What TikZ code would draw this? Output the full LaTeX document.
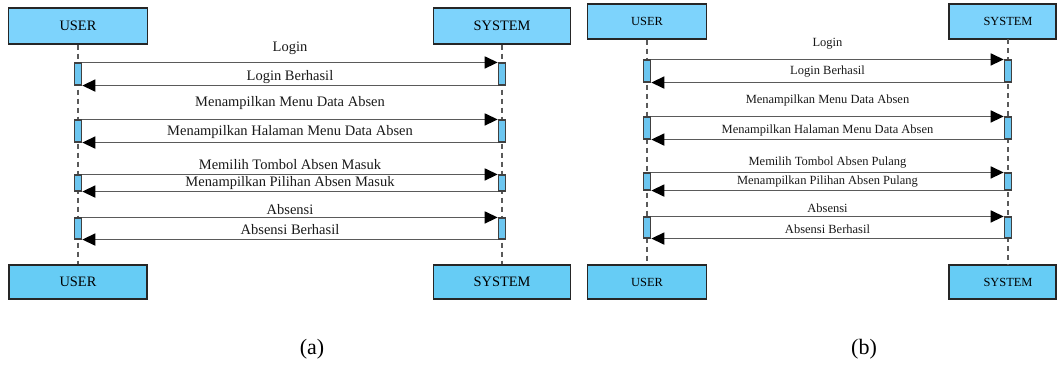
\documentclass[tikz,border=0pt]{standalone}
\usepackage{fontspec}
\setmainfont{Liberation Serif}
\newfontfamily\tnrfont{Liberation Serif}
\usetikzlibrary{arrows.meta}
\definecolor{boxtop}{HTML}{7DD3FC}
\definecolor{boxbot}{HTML}{66CCF5}
\definecolor{actfill}{HTML}{6CC6F0}
\definecolor{linegray}{HTML}{5A5A5A}
\tikzset{
  actorA/.style={draw=black!85, line width=1.3pt, inner sep=0pt, font=\tnrfont\fontsize{14.4}{16}\selectfont},
  actorB/.style={draw=black!85, line width=1.3pt, inner sep=0pt, font=\tnrfont\fontsize{12.4}{14}\selectfont},
  actbox/.style={draw=black!75, fill=actfill, line width=1.1pt, minimum width=7.5pt, inner sep=0pt},
  msg/.style={draw=linegray, line width=1.5pt, -{Triangle[length=13pt,width=12pt,fill=black,color=black]}},
  life/.style={draw=linegray, line width=1.2pt, dash pattern=on 5pt off 4pt},
  lblA/.style={font=\tnrfont\fontsize{14.5}{16}\selectfont, text=black!90, inner sep=1pt},
  lblB/.style={font=\tnrfont\fontsize{12.5}{14}\selectfont, text=black!90, inner sep=1pt},
  captext/.style={font=\tnrfont\fontsize{22}{24}\selectfont, inner sep=0pt}
}
\begin{document}
\begin{tikzpicture}[x=1pt,y=-1pt]
\useasboundingbox (0,0) rectangle (1057,365);
% ---------- panel (a) ----------
\node[actorA, fill=boxtop, minimum width=139pt, minimum height=36pt] (uTa) at (78,26) {USER};
\node[actorA, fill=boxtop, minimum width=137pt, minimum height=36pt] (sTa) at (502,26) {SYSTEM};
\node[actorA, fill=boxbot, minimum width=138pt, minimum height=34pt] (uBa) at (78,282) {USER};
\node[actorA, fill=boxbot, minimum width=137pt, minimum height=34pt] (sBa) at (502,282) {SYSTEM};
\draw[life] (uTa) -- (uBa);
\draw[life] (sTa) -- (sBa);
\node[actbox, minimum height=22pt] (ua1) at (78,74) {};
\node[actbox, minimum height=22pt] (sa1) at (502,74) {};
\node[actbox, minimum height=22pt] (ua2) at (78,131) {};
\node[actbox, minimum height=22pt] (sa2) at (502,131) {};
\node[actbox, minimum height=16pt] (ua3) at (78,183) {};
\node[actbox, minimum height=16pt] (sa3) at (502,183) {};
\node[actbox, minimum height=21pt] (ua4) at (78,228.5) {};
\node[actbox, minimum height=21pt] (sa4) at (502,228.5) {};
\draw[msg] (ua1.north east) -- (sa1.north west);
\draw[msg] (sa1.south west) -- (ua1.south east);
\draw[msg] (ua2.north east) -- (sa2.north west);
\draw[msg] (sa2.south west) -- (ua2.south east);
\draw[msg] (ua3.north east) -- (sa3.north west);
\draw[msg] (sa3.south west) -- (ua3.south east);
\draw[msg] (ua4.north east) -- (sa4.north west);
\draw[msg] (sa4.south west) -- (ua4.south east);
\node[lblA] (la1) at (290,48) {Login};
\node[lblA] (la2) at (290,77) {Login Berhasil};
\node[lblA] (la3) at (290,103) {Menampilkan Menu Data Absen};
\node[lblA] (la4) at (290,132) {Menampilkan Halaman Menu Data Absen};
\node[lblA] (la5) at (290,165) {Memilih Tombol Absen Masuk};
\node[lblA] (la6) at (290,183) {Menampilkan Pilihan Absen Masuk};
\node[lblA] (la7) at (290,210) {Absensi};
\node[lblA] (la8) at (290,230) {Absensi Berhasil};
% ---------- panel (b) ----------
\node[actorB, fill=boxtop, minimum width=119pt, minimum height=35pt] (uTb) at (647,21.5) {USER};
\node[actorB, fill=boxtop, minimum width=107pt, minimum height=35pt] (sTb) at (1002.5,21.5) {\hspace*{11pt}SYSTEM};
\node[actorB, fill=boxbot, minimum width=119pt, minimum height=34pt] (uBb) at (647,282) {USER};
\node[actorB, fill=boxbot, minimum width=107pt, minimum height=34pt] (sBb) at (1002.5,282) {\hspace*{11pt}SYSTEM};
\coordinate (sTbl) at (1008,39);
\coordinate (sBbl) at (1008,265);
\draw[life] (uTb) -- (uBb);
\draw[life] (sTbl) -- (sBbl);
\node[actbox, minimum height=22pt] (ub1) at (647,71) {};
\node[actbox, minimum height=22pt] (sb1) at (1008,71) {};
\node[actbox, minimum height=22pt] (ub2) at (647,128) {};
\node[actbox, minimum height=22pt] (sb2) at (1008,128) {};
\node[actbox, minimum height=17pt] (ub3) at (647,181.5) {};
\node[actbox, minimum height=17pt] (sb3) at (1008,181.5) {};
\node[actbox, minimum height=21pt] (ub4) at (647,227.5) {};
\node[actbox, minimum height=21pt] (sb4) at (1008,227.5) {};
\draw[msg] (ub1.north east) -- (sb1.north west);
\draw[msg] (sb1.south west) -- (ub1.south east);
\draw[msg] (ub2.north east) -- (sb2.north west);
\draw[msg] (sb2.south west) -- (ub2.south east);
\draw[msg] (ub3.north east) -- (sb3.north west);
\draw[msg] (sb3.south west) -- (ub3.south east);
\draw[msg] (ub4.north east) -- (sb4.north west);
\draw[msg] (sb4.south west) -- (ub4.south east);
\node[lblB] (lb1) at (827.5,44) {Login};
\node[lblB] (lb2) at (827.5,72) {Login Berhasil};
\node[lblB] (lb3) at (827.5,100) {Menampilkan Menu Data Absen};
\node[lblB] (lb4) at (827.5,130) {Menampilkan Halaman Menu Data Absen};
\node[lblB] (lb5) at (827.5,163) {Memilih Tombol Absen Pulang};
\node[lblB] (lb6) at (827.5,182) {Menampilkan Pilihan Absen Pulang};
\node[lblB] (lb7) at (827.5,208) {Absensi};
\node[lblB] (lb8) at (827.5,229) {Absensi Berhasil};
% ---------- captions ----------
\node[captext] (capa) at (312,349) {(a)};
\node[captext] (capb) at (864,349) {(b)};
\end{tikzpicture}
\end{document}
